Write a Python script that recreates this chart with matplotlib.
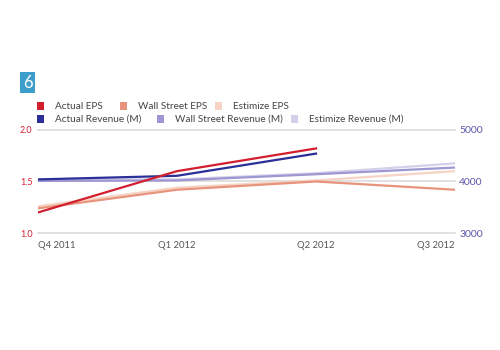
import matplotlib
matplotlib.use("Agg")
import matplotlib.pyplot as plt
from matplotlib.patches import Rectangle

quarters = ["Q4 2011", "Q1 2012", "Q2 2012", "Q3 2012"]
actual_eps = [1.20, 1.60, 1.82]
wallstreet_eps = [1.24, 1.42, 1.50, 1.42]
estimize_eps = [1.26, 1.44, 1.51, 1.60]
actual_rev = [4040, 4110, 4540]
wallstreet_rev = [4010, 4020, 4140, 4270]
estimize_rev = [4040, 4040, 4160, 4350]

eps_ticks = [1.0, 1.5, 2.0]
rev_ticks = [3000, 4000, 5000]

c_aeps = "#d21f2f"
c_weps = "#e8937c"
c_eeps = "#f6d3c4"
c_arev = "#2b2f98"
c_wrev = "#9d97d2"
c_erev = "#d3d0eb"

plt.rcParams['font.family'] = ['Lato', 'DejaVu Sans']

fig = plt.figure(figsize=(5, 3.5), dpi=100)
ax = fig.add_axes([0.076, 0.334, 0.834, 0.295])
ax2 = ax.twinx()

x = list(range(len(quarters)))
lw = 1.6
ax.plot(x, estimize_eps, color=c_eeps, lw=lw, zorder=2)
ax.plot(x, wallstreet_eps, color=c_weps, lw=lw, zorder=3)
ax2.plot(x, estimize_rev, color=c_erev, lw=lw, zorder=2)
ax2.plot(x, wallstreet_rev, color=c_wrev, lw=lw, zorder=3)
ax2.plot(x[:len(actual_rev)], actual_rev, color=c_arev, lw=lw, zorder=4)
ax.plot(x[:len(actual_eps)], actual_eps, color=c_aeps, lw=lw, zorder=5)

ax.set_ylim(1.0, 2.0)
ax2.set_ylim(3000, 5000)
ax.set_xlim(0, 3)
ax.set_yticks(eps_ticks)
ax.set_yticklabels([f"{v:.1f}" for v in eps_ticks])
ax2.set_yticks(rev_ticks)
ax2.set_yticklabels([str(v) for v in rev_ticks])
ax.set_xticks(x)
ax.set_xticklabels(quarters)
for i, lab in enumerate(ax.get_xticklabels()):
    lab.set_ha('left' if i == 0 else ('right' if i == len(quarters) - 1 else 'center'))

for a in (ax, ax2):
    for s in a.spines.values():
        s.set_visible(False)
# draw EPS axis lines above revenue axis
ax2.set_zorder(1)
ax.set_zorder(2)
ax.patch.set_visible(False)
ax2.patch.set_visible(False)
for v in eps_ticks:
    ax2.axhline(3000 + (v - 1.0) * 2000, color='#dcdcdc', lw=1.2, zorder=0, clip_on=False)
ax.tick_params(axis='y', length=0, labelsize=6.5, labelcolor=c_aeps, pad=4)
ax2.tick_params(axis='y', length=0, labelsize=7.5, labelcolor='#5a55a8', pad=3)
ax.tick_params(axis='x', length=0, labelsize=6.8, labelcolor='#555555', pad=6)

# badge
fig.patches.append(Rectangle((20/500, 1-93/350), 15/500, 21/350, transform=fig.transFigure,
                             facecolor='#3d9dcb', edgecolor='none'))
fig.text(27.5/500, 1-83/350, "6", color='white', fontsize=12, ha='center', va='center')

legend_items = [
    ("Actual EPS", c_aeps, 37, 106),
    ("Wall Street EPS", c_weps, 120, 106),
    ("Estimize EPS", c_eeps, 215, 106),
    ("Actual Revenue (M)", c_arev, 37, 119),
    ("Wall Street Revenue (M)", c_wrev, 157, 119),
    ("Estimize Revenue (M)", c_erev, 291, 119),
]
for lab, col, px, py in legend_items:
    fig.patches.append(Rectangle((px/500, 1-(py+4)/350), 7/500, 8/350, transform=fig.transFigure,
                                 facecolor=col, edgecolor='none'))
    fig.text((px+18)/500, 1-py/350, lab, color='#444444', fontsize=7.2, va='center', ha='left')

fig.savefig("out.png", dpi=100, facecolor='white')
